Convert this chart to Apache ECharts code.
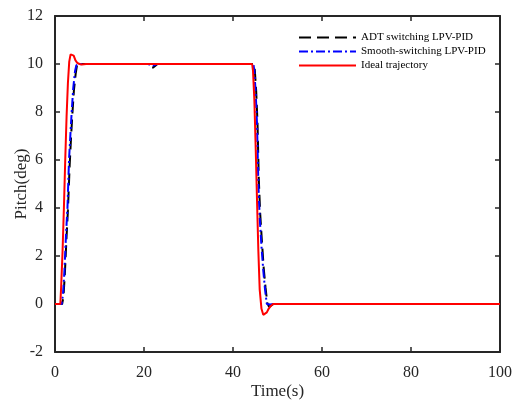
<!DOCTYPE html>
<html>
<head>
<meta charset="utf-8">
<script src="https://cdn.jsdelivr.net/npm/echarts@6/dist/echarts.min.js"></script>
<style>html,body{margin:0;padding:0;background:#fff}#c{width:521px;height:407px}</style>
</head>
<body>
<div id="c"></div>
<script>
// Ideal trajectory
const idealT = [0,1.2,1.4,1.7,2.0,2.3,2.6,2.9,3.2,3.5,3.8,4.2,4.6,5.0,5.5,6.0,7,44.3,44.5,44.8,45.1,45.4,45.7,46.0,46.4,46.8,47.2,47.6,48.0,48.5,49.0,50,100];
const idealY = [0,0,0.8,2.2,4.0,6.0,7.8,9.2,10.1,10.4,10.45,10.35,10.15,10.05,10.0,9.98,10,10,9.7,8.5,6.5,4.3,2.2,0.6,-0.2,-0.45,-0.45,-0.35,-0.2,-0.08,0,0,0];
// Smooth-switching LPV-PID
const smoothT = [0,1.5,1.8,2.1,2.5,2.8,3.15,3.5,3.75,4.1,4.5,4.8,5.2,6,21,21.5,22,22.5,23,44.6,44.8,45.1,45.4,45.7,46.0,46.4,46.8,47.2,47.6,48.0,48.4,49,100];
const smoothY = [0,0,0.4,1.3,3.0,4.0,6.0,7.2,8.0,9.0,9.7,9.95,10.02,10,10,9.95,9.93,9.97,10,10,9.7,8.8,7.5,5.0,3.6,2.4,1.4,0.6,0.0,-0.08,-0.02,0,0];
// ADT switching LPV-PID
const adtT = [0,1.6,1.9,2.2,2.6,2.9,3.3,3.65,3.9,4.25,4.65,4.95,5.4,6,21,21.5,22,22.5,23,44.7,44.9,45.2,45.5,45.8,46.1,46.5,46.9,47.3,47.7,48.1,48.5,49.1,100];
const adtY = [0,0,0.3,1.2,2.8,3.9,5.8,7.1,7.9,8.9,9.6,9.95,10.03,10,10,9.88,9.85,9.92,10,10,9.75,8.9,7.6,5.2,3.8,2.6,1.5,0.7,0.05,-0.12,-0.05,0,0];
const xTicks = [0,20,40,60,80,100];
const yTicks = [-2,0,2,4,6,8,10,12];

const zip = (t, y) => t.map((v, i) => [v, y[i]]);
const font = 'Liberation Serif';
const axisCol = '#262626';
const chart = echarts.init(document.getElementById('c'));
const baseAxis = {
  axisLine: {show: true, onZero: false, lineStyle: {color: axisCol, width: 2}},
  axisTick: {show: true, inside: true, length: 5, lineStyle: {color: axisCol, width: 1.5}},
  splitLine: {show: false}
};
chart.setOption({
  backgroundColor: '#fff',
  animation: false,
  grid: {left: 55, right: 21, top: 16, bottom: 55, containLabel: false, outerBoundsMode: 'none'},
  legend: {
    left: 293, top: 27, orient: 'vertical', itemWidth: 57, itemHeight: 10, itemGap: 3,
    itemStyle: {opacity: 0},
    textStyle: {fontFamily: font, fontSize: 11, color: '#000'},
    data: ['ADT switching LPV-PID', 'Smooth-switching LPV-PID', 'Ideal trajectory']
  },
  xAxis: [
    Object.assign({}, baseAxis, {
      type: 'value', min: 0, max: 100, interval: 20, position: 'bottom',
      name: 'Time(s)', nameLocation: 'middle', nameGap: 31, nameMoveOverlap: false,
      nameTextStyle: {fontFamily: font, fontSize: 17, color: axisCol},
      axisLabel: {fontFamily: font, fontSize: 16, color: axisCol, margin: 13,
        formatter: v => xTicks.includes(v) ? String(v) : ''}
    }),
    Object.assign({}, baseAxis, {
      type: 'value', min: 0, max: 100, interval: 20, position: 'top', axisLabel: {show: false}
    })
  ],
  yAxis: [
    Object.assign({}, baseAxis, {
      type: 'value', min: -2, max: 12, interval: 2, position: 'left',
      name: 'Pitch(deg)', nameLocation: 'middle', nameGap: 25, nameMoveOverlap: false,
      nameTextStyle: {fontFamily: font, fontSize: 17, color: axisCol},
      axisLabel: {fontFamily: font, fontSize: 16, color: axisCol, margin: 12,
        formatter: v => yTicks.includes(v) ? String(v) : ''}
    }),
    Object.assign({}, baseAxis, {
      type: 'value', min: -2, max: 12, interval: 2, position: 'right', axisLabel: {show: false}
    })
  ],
  series: [
    {name: 'ADT switching LPV-PID', type: 'line', data: zip(adtT, adtY), symbol: 'none',
      lineStyle: {color: '#000', width: 2, type: [12, 6]}, itemStyle: {color: '#000'}},
    {name: 'Smooth-switching LPV-PID', type: 'line', data: zip(smoothT, smoothY), symbol: 'none',
      lineStyle: {color: '#0000ff', width: 2, type: [9, 3, 2, 3]}, itemStyle: {color: '#0000ff'}},
    {name: 'Ideal trajectory', type: 'line', data: zip(idealT, idealY), symbol: 'none',
      lineStyle: {color: '#ff0000', width: 2}, itemStyle: {color: '#ff0000'}}
  ]
});
</script>
</body>
</html>
